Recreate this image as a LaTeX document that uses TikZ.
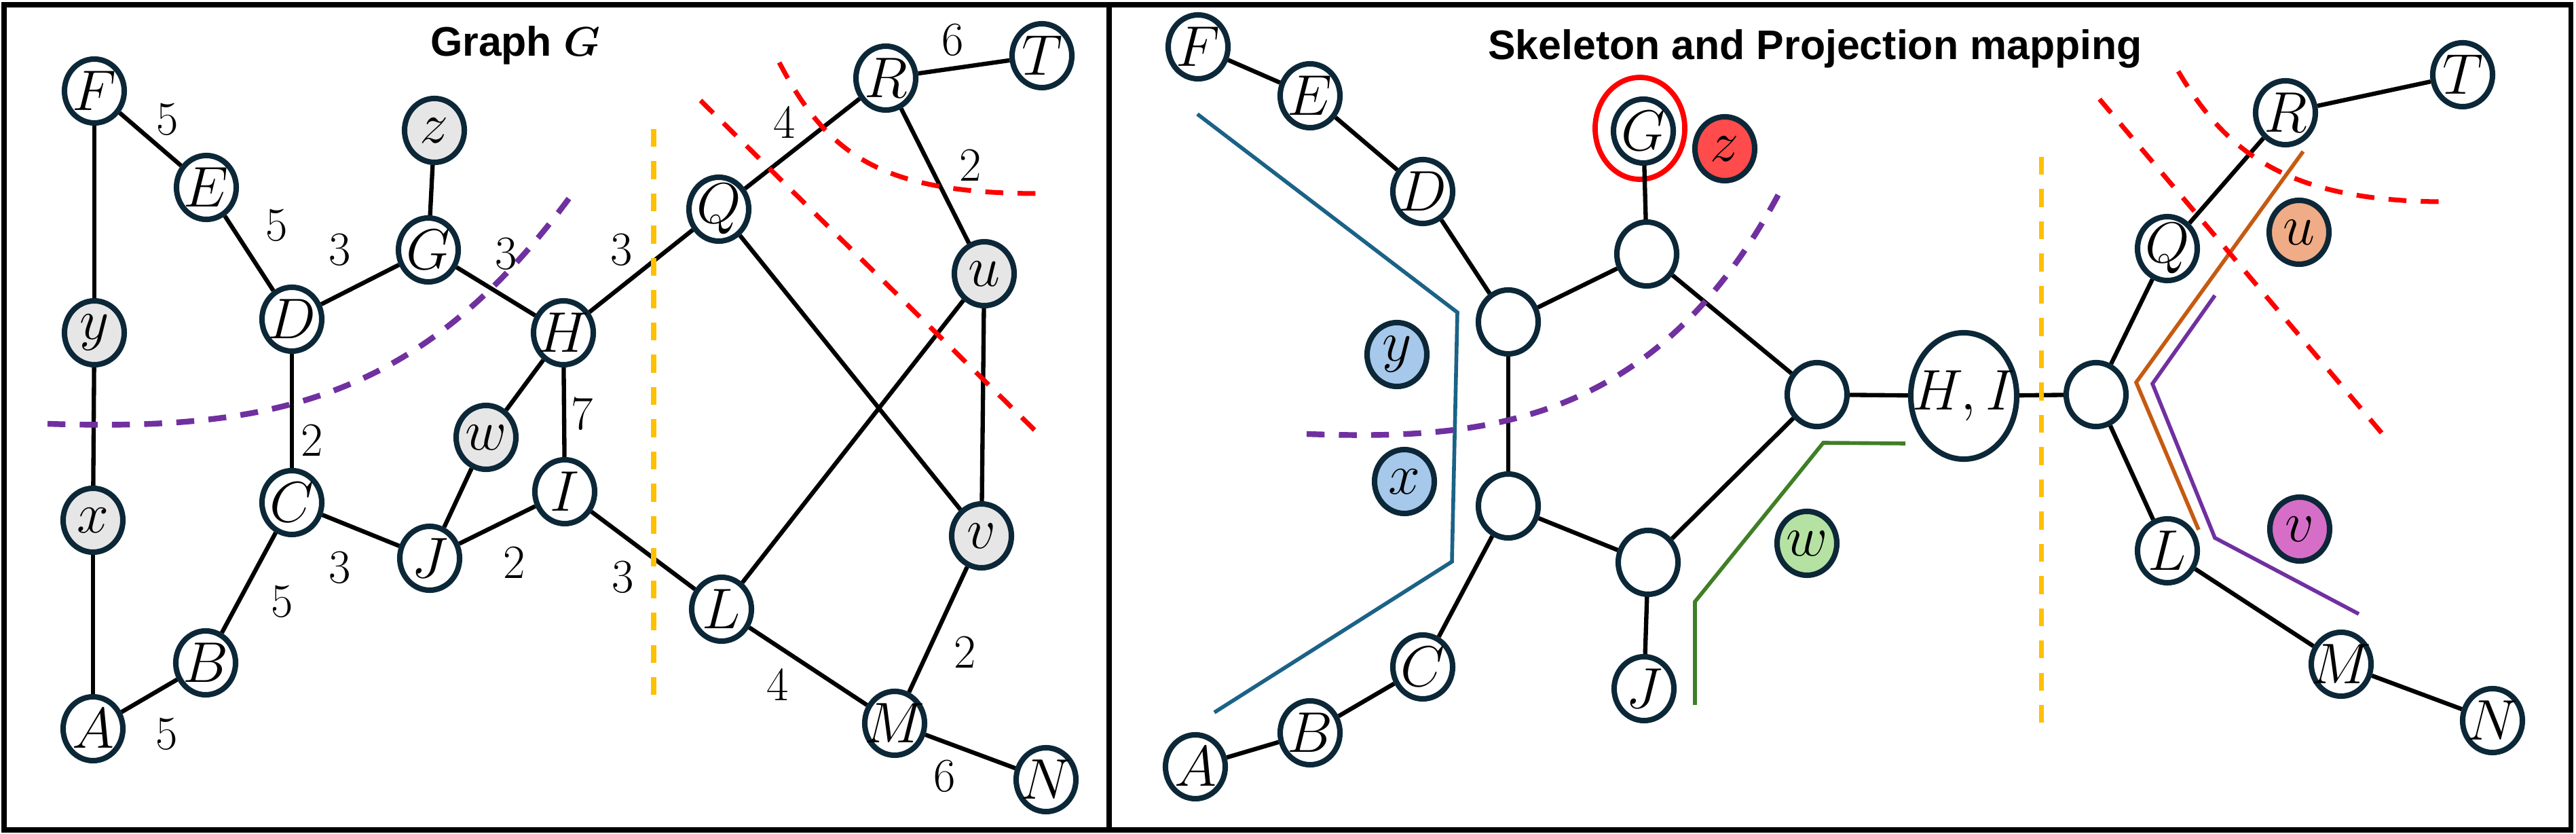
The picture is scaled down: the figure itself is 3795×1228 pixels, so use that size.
\RequirePackage{fix-cm}
\documentclass[tikz,border=0pt]{standalone}
\usepackage{fontspec}
\usepackage{xcolor}
\usepackage{tikz}
\usetikzlibrary{shapes.geometric}
\usepackage{amsmath}
\setsansfont{Liberation Sans}
\definecolor{nodeborder}{RGB}{12,40,56}
\definecolor{projgray}{RGB}{231,230,230}
\definecolor{projblue}{RGB}{166,200,234}
\definecolor{projred}{RGB}{255,75,75}
\definecolor{projorange}{RGB}{240,172,134}
\definecolor{projmagenta}{RGB}{214,110,200}
\definecolor{projgreen}{RGB}{181,226,162}
\definecolor{linegreen}{RGB}{63,127,37}
\definecolor{lineblue}{RGB}{27,98,135}
\definecolor{lineorange}{RGB}{197,90,17}
\definecolor{linepurple}{RGB}{112,48,160}
\definecolor{cutyellow}{RGB}{255,192,0}

\begin{document}
\begin{tikzpicture}[
    x=0.01cm, y=-0.01cm,
    vertex/.style={ellipse, draw=nodeborder, line width=2.3pt, fill=white, minimum width=0.88cm, minimum height=0.94cm, inner sep=-4.5pt, font=\fontsize{24}{24}\selectfont},
    grayv/.style={vertex, fill=projgray},
    bignode/.style={vertex, minimum width=1.56cm, minimum height=1.86cm, inner sep=0pt},
    wt/.style={font=\fontsize{20}{20}\selectfont, inner sep=0pt},
    link/.style={line width=1.8pt},
    heading/.style={font=\sffamily\bfseries\fontsize{17.3}{20}\selectfont},
    cut/.style={line width=2pt, dash pattern=on 7.5pt off 6pt},
    proj/.style={line width=1.6pt}
]
    \useasboundingbox (0,0) rectangle (3795,1228);

    % Frame
    \draw[line width=2pt] (6,7) rectangle (3787,1222);
    \draw[line width=2pt] (1634,7) -- (1634,1222);

    % Titles
    \node[heading] (titleG) at (759,67) {Graph {\boldmath$G$}};
    \node[heading] (titleS) at (2674,72) {Skeleton and Projection mapping};

    % Graph G: vertices
    \node[vertex] (F) at (139,134) {$F$};
    \node[vertex] (E) at (304,276) {$E$};
    \node[vertex] (D) at (430,470) {$D$};
    \node[vertex] (G) at (631,368) {$G$};
    \node[grayv] (z) at (640,192) {$z$};
    \node[vertex] (H) at (830,490) {$H$};
    \node[grayv] (y) at (139,490) {$y$};
    \node[grayv] (x) at (137,766) {$x$};
    \node[vertex] (C) at (430,740) {$C$};
    \node[grayv] (w) at (716,644) {$w$};
    \node[vertex] (I) at (832,724) {$I$};
    \node[vertex] (J) at (633,822) {$J$};
    \node[vertex] (B) at (303,976) {$B$};
    \node[vertex] (A) at (137,1073) {$A$};
    \node[vertex] (Q) at (1059,308) {$Q$};
    \node[vertex] (R) at (1305,115) {$R$};
    \node[vertex] (T) at (1535,82) {$T$};
    \node[grayv] (u) at (1450,403) {$u$};
    \node[grayv] (v) at (1446,789) {$v$};
    \node[vertex] (L) at (1063,897) {$L$};
    \node[vertex] (M) at (1318,1065) {$M$};
    \node[vertex] (N) at (1541,1148) {$N$};

    % Graph G: edges
    \draw[link] (F) -- (E);
    \draw[link] (F) -- (y);
    \draw[link] (y) -- (x);
    \draw[link] (x) -- (A);
    \draw[link] (A) -- (B);
    \draw[link] (B) -- (C);
    \draw[link] (C) -- (D);
    \draw[link] (D) -- (E);
    \draw[link] (D) -- (G);
    \draw[link] (G) -- (z);
    \draw[link] (G) -- (H);
    \draw[link] (H) -- (Q);
    \draw[link] (H) -- (w);
    \draw[link] (H) -- (I);
    \draw[link] (w) -- (J);
    \draw[link] (C) -- (J);
    \draw[link] (J) -- (I);
    \draw[link] (I) -- (L);
    \draw[link] (Q) -- (R);
    \draw[link] (R) -- (T);
    \draw[link] (R) -- (u);
    \draw[link] (Q) -- (v);
    \draw[link] (u) -- (L);
    \draw[link] (u) -- (v);
    \draw[link] (L) -- (M);
    \draw[link] (v) -- (M);
    \draw[link] (M) -- (N);

    % Graph G: weights
    \node[wt] (wFE) at (247,176) {5};
    \node[wt] (wED) at (408,332) {5};
    \node[wt] (wDG) at (501,368) {3};
    \node[wt] (wGH) at (746,374) {3};
    \node[wt] (wHQ) at (916,368) {3};
    \node[wt] (wQR) at (1156,180) {4};
    \node[wt] (wRT) at (1404,59) {6};
    \node[wt] (wRu) at (1430,243) {2};
    \node[wt] (wHI) at (858,609) {7};
    \node[wt] (wCD) at (460,648) {2};
    \node[wt] (wCJ) at (501,836) {3};
    \node[wt] (wBC) at (416,886) {5};
    \node[wt] (wJI) at (758,828) {2};
    \node[wt] (wIL) at (918,850) {3};
    \node[wt] (wAB) at (246,1081) {5};
    \node[wt] (wLM) at (1146,1008) {4};
    \node[wt] (wvM) at (1422,960) {2};
    \node[wt] (wMN) at (1392,1143) {6};

    % Graph G: cuts
    \draw[cut, linepurple, line width=2.4pt] (70,624) .. controls (400,635) and (620,590) .. (842,287);
    \draw[cut, cutyellow] (963,190) -- (963,1032);
    \draw[cut, red] (1032,148) -- (1531,640);
    \draw[cut, red] (1148,92) .. controls (1220,230) and (1300,285) .. (1531,285);

    % Skeleton: vertices
    \node[vertex] (sF) at (1765,69) {$F$};
    \node[vertex] (sE) at (1930,141) {$E$};
    \node[vertex] (sD) at (2096,282) {$D$};
    \node[vertex] (sG) at (2421,193) {$G$};
    \node[ellipse, draw=red, line width=2.2pt, minimum width=1.32cm, minimum height=1.5cm] (ring) at (2416,189) {};
    \node[vertex, fill=projred] (sz) at (2541,219) {$z$};
    \node[vertex] (s1) at (2426,374) {};
    \node[vertex] (s2) at (2222,474) {};
    \node[vertex] (s3) at (2677,581) {};
    \node[vertex, fill=projblue] (sy) at (2058,522) {$y$};
    \node[vertex, fill=projblue] (sx) at (2069,709) {$x$};
    \node[vertex] (s4) at (2222,745) {};
    \node[vertex] (s5) at (2428,828) {};
    \node[vertex, fill=projgreen] (sw) at (2662,800) {$w$};
    \node[vertex] (sC) at (2096,982) {$C$};
    \node[vertex] (sJ) at (2422,1014) {$J$};
    \node[vertex] (sB) at (1930,1079) {$B$};
    \node[vertex] (sA) at (1761,1129) {$A$};
    \node[bignode] (sHI) at (2893,583) {\makebox[0pt]{$H,I$}};
    \node[vertex] (s6) at (3088,581) {};
    \node[vertex] (sQ) at (3193,366) {$Q$};
    \node[vertex] (sR) at (3367,166) {$R$};
    \node[vertex] (sT) at (3628,110) {$T$};
    \node[vertex, fill=projorange] (su) at (3387,342) {$u$};
    \node[vertex] (sL) at (3193,811) {$L$};
    \node[vertex, fill=projmagenta] (sv) at (3388,779) {$v$};
    \node[vertex] (sM) at (3449,978) {$M$};
    \node[vertex] (sN) at (3672,1061) {$N$};

    % Skeleton: edges
    \draw[link] (sF) -- (sE);
    \draw[link] (sE) -- (sD);
    \draw[link] (sD) -- (s2);
    \draw[link] (s2) -- (s1);
    \draw[link] (s1) -- (sG);
    \draw[link] (s1) -- (s3);
    \draw[link] (s2) -- (s4);
    \draw[link] (s4) -- (sC);
    \draw[link] (sC) -- (sB);
    \draw[link] (sB) -- (sA);
    \draw[link] (s4) -- (s5);
    \draw[link] (s5) -- (sJ);
    \draw[link] (s5) -- (s3);
    \draw[link] (s3) -- (sHI);
    \draw[link] (sHI) -- (s6);
    \draw[link] (s6) -- (sQ);
    \draw[link] (sQ) -- (sR);
    \draw[link] (sR) -- (sT);
    \draw[link] (s6) -- (sL);
    \draw[link] (sL) -- (sM);
    \draw[link] (sM) -- (sN);

    % Projection regions
    \draw[proj, lineblue] (1764,168) -- (2147,460) -- (2139,827) -- (1789,1049);
    \draw[proj, linegreen] (2497,1038) -- (2497,886) -- (2686,652) -- (2807,653);
    \draw[proj, lineorange] (3393,223) -- (3147,563) -- (3239,780);
    \draw[proj, linepurple] (3263,435) -- (3171,565) -- (3263,792) -- (3475,904);

    % Skeleton: cuts
    \draw[cut, linepurple, line width=2.4pt] (1925,639) .. controls (2180,648) and (2440,630) .. (2625,277);
    \draw[cut, cutyellow] (3007,231) -- (3007,1077);
    \draw[cut, red] (3093,146) -- (3515,645);
    \draw[cut, red] (3209,105) .. controls (3280,225) and (3370,295) .. (3593,297);
\end{tikzpicture}
\end{document}
